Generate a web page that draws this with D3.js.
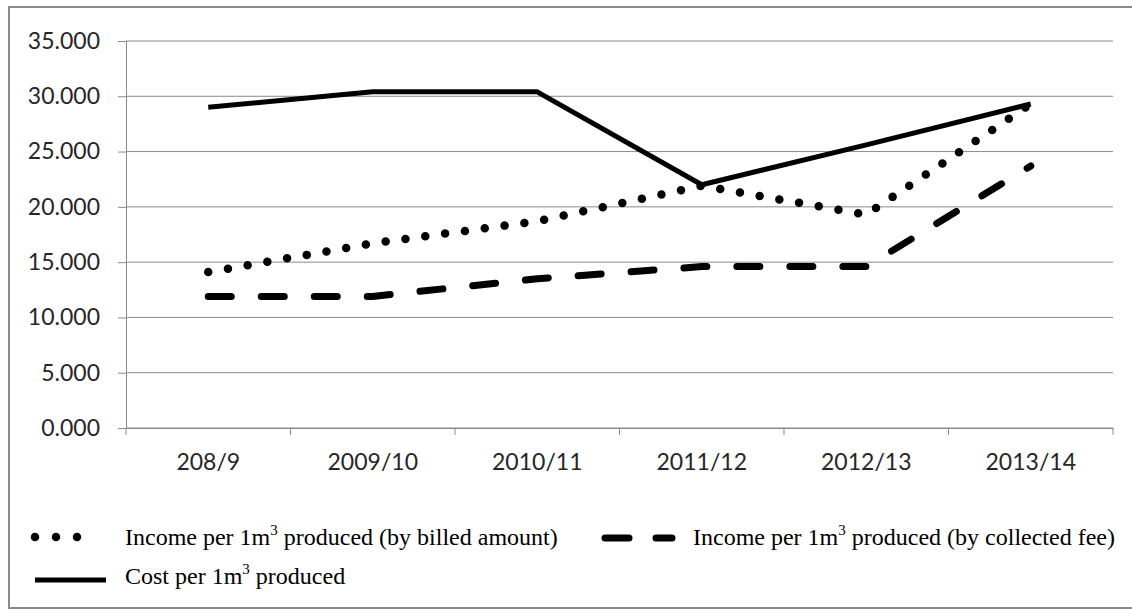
<!DOCTYPE html>
<html>
<head>
<meta charset="utf-8">
<script src="https://cdn.jsdelivr.net/npm/d3@7"></script>
<style>
  html, body { margin: 0; padding: 0; background: #fff; }
  svg { display: block; }
  .legend-text, .legend-text tspan { font-family: "Liberation Serif", "DejaVu Serif", serif; }
</style>
</head>
<body>
<svg id="chart" width="1132" height="610"></svg>
<script>
// Fiscal years on the category axis
const years = ["208/9", "2009/10", "2010/11", "2011/12", "2012/13", "2013/14"];

// Values per 1 m3 produced (thousands)
const billedIncome    = [14.1, 16.7, 18.7, 21.9, 19.3, 29.3];
const collectedIncome = [11.9, 11.9, 13.5, 14.6, 14.6, 23.7];
const costProduced    = [29.0, 30.4, 30.4, 22.0, 25.6, 29.3];

// Value axis ticks
const yTicks = [0, 5, 10, 15, 20, 25, 30, 35];

const svg = d3.select("#chart");
const plot = { left: 126, right: 1113, top: 41, bottom: 428 };
const gridColor = "#8a8a8a";

// Outer frame
svg.append("rect")
  .attr("x", 9).attr("y", 7)
  .attr("width", 1130).attr("height", 601)
  .attr("fill", "#fff")
  .attr("stroke", gridColor)
  .attr("stroke-width", 2);

const x = d3.scaleBand().domain(years).range([plot.left, plot.right]);
const cx = d => x(d) + x.bandwidth() / 2;
const y = d3.scaleLinear().domain([0, 35]).range([plot.bottom, plot.top]);

// Horizontal gridlines
svg.append("g")
  .selectAll("line")
  .data(yTicks)
  .join("line")
  .attr("x1", plot.left).attr("x2", plot.right)
  .attr("y1", d => y(d)).attr("y2", d => y(d))
  .attr("stroke", gridColor).attr("stroke-width", 1);

// Value axis
const yAxis = svg.append("g")
  .attr("transform", `translate(${plot.left},0)`)
  .call(d3.axisLeft(y).tickValues(yTicks).tickFormat(d3.format(".3f")).tickSize(8).tickPadding(18));
yAxis.select(".domain").attr("stroke", gridColor);
yAxis.selectAll(".tick line").attr("stroke", gridColor);
yAxis.selectAll("text")
  .attr("font-family", "Lato, 'Open Sans', sans-serif")
  .attr("font-size", 23)
  .attr("fill", "#262626");

// Category axis
const xAxis = svg.append("g")
  .attr("transform", `translate(0,${plot.bottom})`)
  .call(d3.axisBottom(x).tickSize(0).tickPadding(26));
xAxis.select(".domain").attr("stroke", gridColor);
xAxis.selectAll("text")
  .attr("font-family", "Lato, 'Open Sans', sans-serif")
  .attr("font-size", 23)
  .attr("fill", "#262626");

// Category boundary ticks
const bounds = years.map(d => x(d)).concat([x(years[years.length - 1]) + x.bandwidth()]);
svg.append("g")
  .selectAll("line")
  .data(bounds)
  .join("line")
  .attr("x1", d => d).attr("x2", d => d)
  .attr("y1", plot.bottom).attr("y2", plot.bottom + 7)
  .attr("stroke", gridColor).attr("stroke-width", 1);

// Series styles
const series = [
  { name: "billed", values: billedIncome, width: 8.5, dash: "0 20", cap: "round" },
  { name: "collected", values: collectedIncome, width: 7, dash: "23 30", cap: "round" },
  { name: "cost", values: costProduced, width: 5, dash: null, cap: "butt" }
];

const line = d3.line()
  .x((v, i) => cx(years[i]))
  .y(v => y(v));

svg.append("g")
  .selectAll("path")
  .data(series)
  .join("path")
  .attr("d", s => line(s.values))
  .attr("fill", "none")
  .attr("stroke", "#000")
  .attr("stroke-width", s => s.width)
  .attr("stroke-dasharray", s => s.dash)
  .attr("stroke-linecap", s => s.cap)
  .attr("stroke-linejoin", "round");

// Legend
function legendLabel(tx, ty, before, after) {
  const t = svg.append("text")
    .attr("class", "legend-text")
    .attr("x", tx).attr("y", ty)
    .attr("font-size", 24)
    .attr("fill", "#000");
  t.append("tspan").text(before);
  t.append("tspan").attr("font-size", 15).attr("dy", -10).text("3");
  t.append("tspan").attr("font-size", 24).attr("dy", 10).text(after);
}

svg.append("line")
  .attr("x1", 35).attr("x2", 98).attr("y1", 537).attr("y2", 537)
  .attr("stroke", "#000").attr("stroke-width", 8.5)
  .attr("stroke-dasharray", "0 21").attr("stroke-linecap", "round");
legendLabel(125, 545, "Income per 1m", " produced (by billed amount)");

svg.append("line")
  .attr("x1", 605).attr("x2", 672).attr("y1", 538).attr("y2", 538)
  .attr("stroke", "#000").attr("stroke-width", 7)
  .attr("stroke-dasharray", "24 27").attr("stroke-linecap", "round");
legendLabel(693, 545, "Income per 1m", " produced (by collected fee)");

svg.append("line")
  .attr("x1", 35).attr("x2", 106).attr("y1", 580).attr("y2", 580)
  .attr("stroke", "#000").attr("stroke-width", 5);
legendLabel(125, 584, "Cost per 1m", " produced");
</script>
</body>
</html>
